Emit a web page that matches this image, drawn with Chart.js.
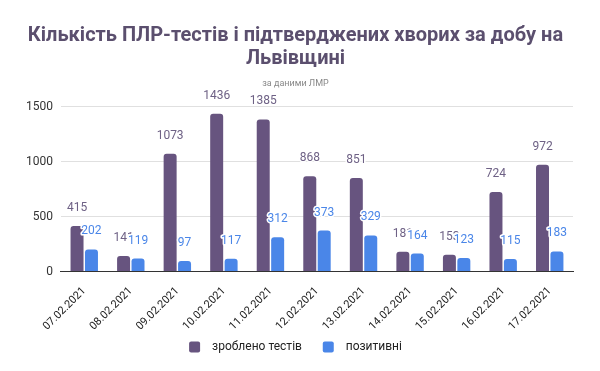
<!DOCTYPE html>
<html>
<head>
<meta charset="utf-8">
<script src="https://cdn.jsdelivr.net/npm/chart.js@4"></script>
<style>
  html, body { margin: 0; padding: 0; background: #fff; }
  #wrap { width: 600px; height: 371px; }
</style>
</head>
<body>
<div id="wrap"><canvas id="chart"></canvas></div>
<script>
const dates = ['07.02.2021', '08.02.2021', '09.02.2021', '10.02.2021', '11.02.2021', '12.02.2021',
  '13.02.2021', '14.02.2021', '15.02.2021', '16.02.2021', '17.02.2021']
const tests = [415, 141, 1073, 1436, 1385, 868, 851, 181, 153, 724, 972]
const positive = [202, 119, 97, 117, 312, 373, 329, 164, 123, 115, 183]
const yTicks = [0, 500, 1000, 1500]

// value labels above bars, with a white halo like the original
const barLabels = {
  id: 'barLabels',
  afterDatasetsDraw(chart) {
    const ctx = chart.ctx
    ctx.save()
    ctx.font = '12px Roboto'
    ctx.textAlign = 'center'
    ctx.textBaseline = 'bottom'
    ctx.lineJoin = 'round'
    chart.data.datasets.forEach((ds, i) => {
      chart.getDatasetMeta(i).data.forEach((bar, j) => {
        const txt = String(ds.data[j])
        ctx.strokeStyle = '#fff'
        ctx.lineWidth = 3
        ctx.strokeText(txt, bar.x, bar.y - 12)
        ctx.fillStyle = ds.labelColor
        ctx.fillText(txt, bar.x, bar.y - 12)
      })
    })
    ctx.restore()
  }
}

new Chart(document.getElementById('chart'), {
  type: 'bar',
  data: {
    labels: dates,
    datasets: [{
      label: 'зроблено тестів',
      data: tests,
      backgroundColor: '#67547f',
      labelColor: '#6e6185',
      borderRadius: {topLeft: 3, topRight: 3},
      borderSkipped: 'bottom'
    }, {
      label: 'позитивні',
      data: positive,
      backgroundColor: '#4a86e8',
      labelColor: '#4a86e8',
      borderRadius: {topLeft: 3, topRight: 3},
      borderSkipped: 'bottom'
    }]
  },
  options: {
    responsive: true,
    maintainAspectRatio: false,
    animation: false,
    datasets: {bar: {categoryPercentage: 0.62, barPercentage: 0.9}},
    layout: {padding: {left: 18, right: 27, top: 0, bottom: 8}},
    plugins: {
      title: {
        display: true,
        text: ['Кількість ПЛР-тестів і підтверджених хворих за добу на', 'Львівщині'],
        color: '#5b4f6e',
        font: {family: 'Roboto', size: 20, weight: 'bold', lineHeight: 1.15},
        padding: {top: 24, bottom: 6}
      },
      subtitle: {
        display: true,
        text: 'за даними ЛМР',
        color: '#888',
        font: {family: 'Roboto', size: 9},
        padding: {top: 2, bottom: 18}
      },
      legend: {
        position: 'bottom',
        labels: {
          color: '#222',
          font: {family: 'Roboto', size: 12},
          boxWidth: 11, boxHeight: 11,
          useBorderRadius: true, borderRadius: 2,
          padding: 3,
          // wider gaps between box, text and the next item
          generateLabels: chart => Chart.defaults.plugins.legend.labels.generateLabels(chart).map((item, i, all) => {
            item.text = '  ' + item.text + (i < all.length - 1 ? '      ' : '')
            return item
          })
        }
      },
      tooltip: {enabled: false}
    },
    scales: {
      x: {
        grid: {display: false},
        border: {color: '#333'},
        ticks: {color: '#222', font: {family: 'Roboto', size: 11}, maxRotation: 45, minRotation: 45, padding: 5}
      },
      y: {
        min: 0, max: 1500,
        afterBuildTicks: axis => { axis.ticks = yTicks.map(v => ({value: v})) },
        grid: {color: '#e0e0e0', drawTicks: false},
        border: {display: false},
        ticks: {color: '#333', font: {family: 'Roboto', size: 12}, padding: 8, callback: v => String(v)}
      }
    }
  },
  plugins: [barLabels]
})
</script>
</body>
</html>
